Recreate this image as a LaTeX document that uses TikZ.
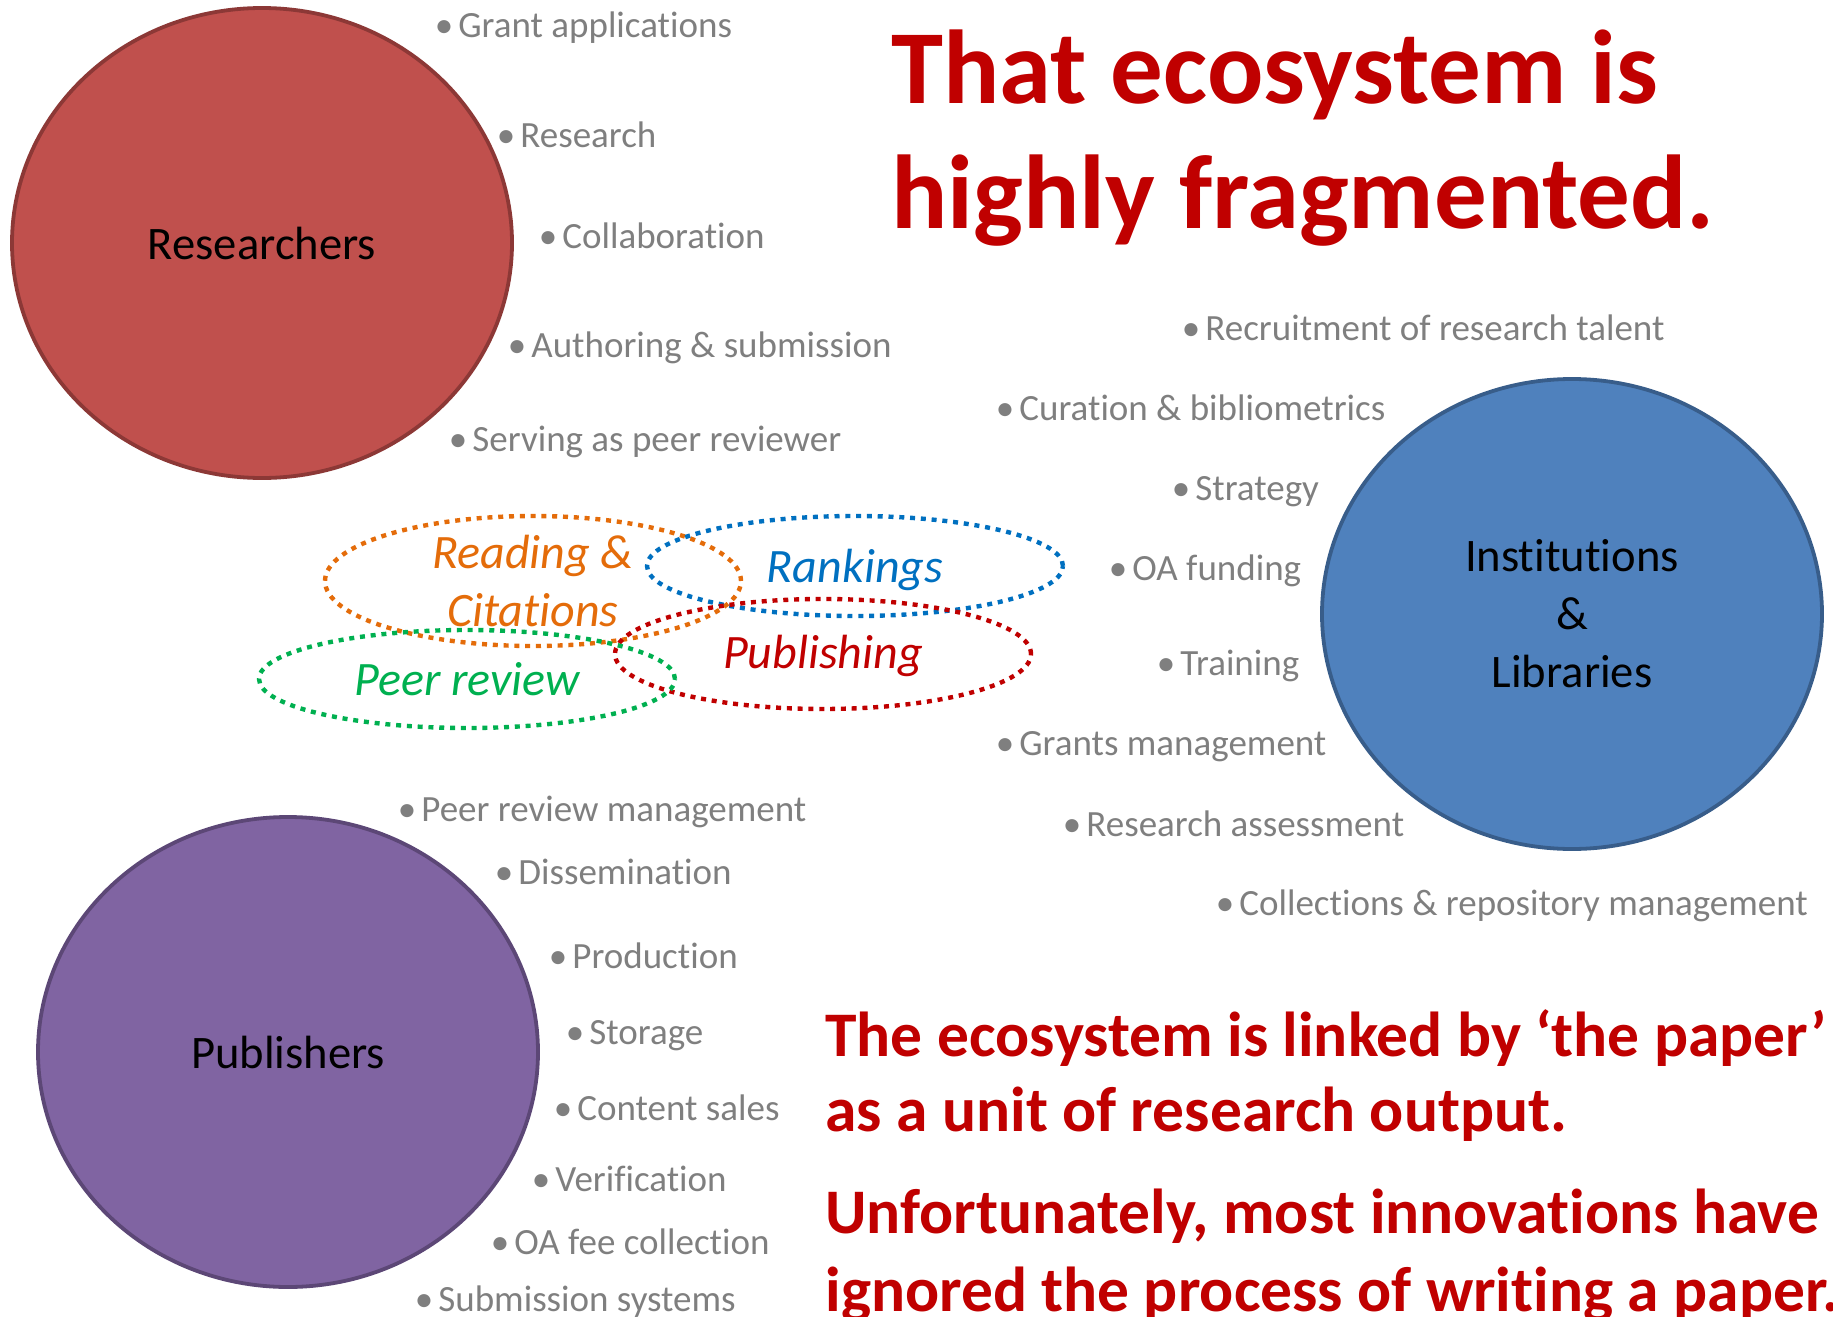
\documentclass[tikz,border=0pt]{standalone}
\usepackage{fontspec}
\setmainfont{Carlito}[Ligatures={TeX,NoCommon}]
\usepackage{tikz}
\usetikzlibrary{shapes.geometric}

\definecolor{itemgray}{HTML}{7F7F7F}
\definecolor{resred}{HTML}{C0504D}
\definecolor{resedge}{HTML}{8C3836}
\definecolor{instblue}{HTML}{4F81BD}
\definecolor{instedge}{HTML}{385D8A}
\definecolor{pubpurple}{HTML}{8064A2}
\definecolor{pubedge}{HTML}{5C4776}
\definecolor{headred}{HTML}{C00000}
\definecolor{readorange}{HTML}{E46C0A}
\definecolor{rankblue}{HTML}{0070C0}
\definecolor{peergreen}{HTML}{00B050}

\newcommand{\itm}[1]{\llap{\textbullet\hspace{2.5pt}}#1}

\begin{document}
\begin{tikzpicture}[x=0.5pt, y=-0.5pt,
  actor/.style={ellipse, line width=1.9pt, minimum width=250pt, minimum height=235pt, inner sep=0pt, align=center, font=\fontsize{23.3}{29}\selectfont},
  item/.style={anchor=base west, inner sep=0pt, text=itemgray, font=\fontsize{18.5}{22}\selectfont},
  ring/.style={ellipse, line width=2.2pt, dash pattern=on 2.5pt off 2.9pt, minimum width=208pt, inner sep=0pt},
  tag/.style={align=center, inner sep=0pt, font=\itshape\fontsize{24}{29}\selectfont},
  head/.style={anchor=base west, inner sep=0pt, text=headred, font=\bfseries\fontsize{52.5}{62}\selectfont},
  note/.style={anchor=base west, inner sep=0pt, text=headred, font=\bfseries\fontsize{31.75}{38}\selectfont}]

\useasboundingbox (0,0) rectangle (1833,1317);

\node[actor, fill=resred, draw=resedge] (res) at (262,243) {Researchers};
\node[actor, fill=instblue, draw=instedge] (inst) at (1572,614) {Institutions\\\&\\Libraries};
\node[actor, fill=pubpurple, draw=pubedge] (pub) at (288,1052) {Publishers};

\node[ring, draw=readorange, minimum height=65pt] (readE) at (533,581) {};
\node[ring, draw=rankblue, minimum height=50pt] (rankE) at (855,566) {};
\node[ring, draw=headred, minimum height=55pt] (pubE) at (823,654) {};
\node[ring, draw=peergreen, minimum height=49pt] (peerE) at (467,679) {};
\node[tag, text=readorange] (readT) at (readE) {Reading \&\\Citations};
\node[tag, text=rankblue] (rankT) at ([yshift=-2pt]rankE) {Rankings};
\node[tag, text=headred] (pubT) at ([yshift=-1pt]pubE) {Publishing};
\node[tag, text=peergreen] (peerT) at (peerE) {Peer review};

\node[item] (r1) at (458,37) {\itm{Grant applications}};
\node[item] (r2) at (520,147) {\itm{Research}};
\node[item] (r3) at (562,248) {\itm{Collaboration}};
\node[item] (r4) at (531,357) {\itm{Authoring \& submission}};
\node[item] (r5) at (472,451) {\itm{Serving as peer reviewer}};

\node[item] (i1) at (1205,340) {\itm{Recruitment of research talent}};
\node[item] (i2) at (1019,420) {\itm{Curation \& bibliometrics}};
\node[item] (i3) at (1195,500) {\itm{Strategy}};
\node[item] (i4) at (1132,580) {\itm{OA funding}};
\node[item] (i5) at (1180,675) {\itm{Training}};
\node[item] (i6) at (1019,755) {\itm{Grants management}};
\node[item] (i7) at (1086,836) {\itm{Research assessment}};
\node[item] (i8) at (1239,915) {\itm{Collections \& repository management}};

\node[item] (p1) at (421,821) {\itm{Peer review management}};
\node[item] (p2) at (518,884) {\itm{Dissemination}};
\node[item] (p3) at (572,968) {\itm{Production}};
\node[item] (p4) at (589,1044) {\itm{Storage}};
\node[item] (p5) at (577,1120) {\itm{Content sales}};
\node[item] (p6) at (555,1191) {\itm{Verification}};
\node[item] (p7) at (514,1254) {\itm{OA fee collection}};
\node[item] (p8) at (438,1311) {\itm{Submission systems}};

\node[head] (h1) at (891,103) {That ecosystem is};
\node[head] (h2) at (891,228) {highly fragmented.};

\node[note] (n1) at (825,1056) {The ecosystem is linked by `the paper'};
\node[note] (n2) at (825,1131) {as a unit of research output.};
\node[note] (n3) at (825,1233) {Unfortunately, most innovations have};
\node[note] (n4) at (825,1311) {ignored the process of writing a paper.};
\end{tikzpicture}
\end{document}
